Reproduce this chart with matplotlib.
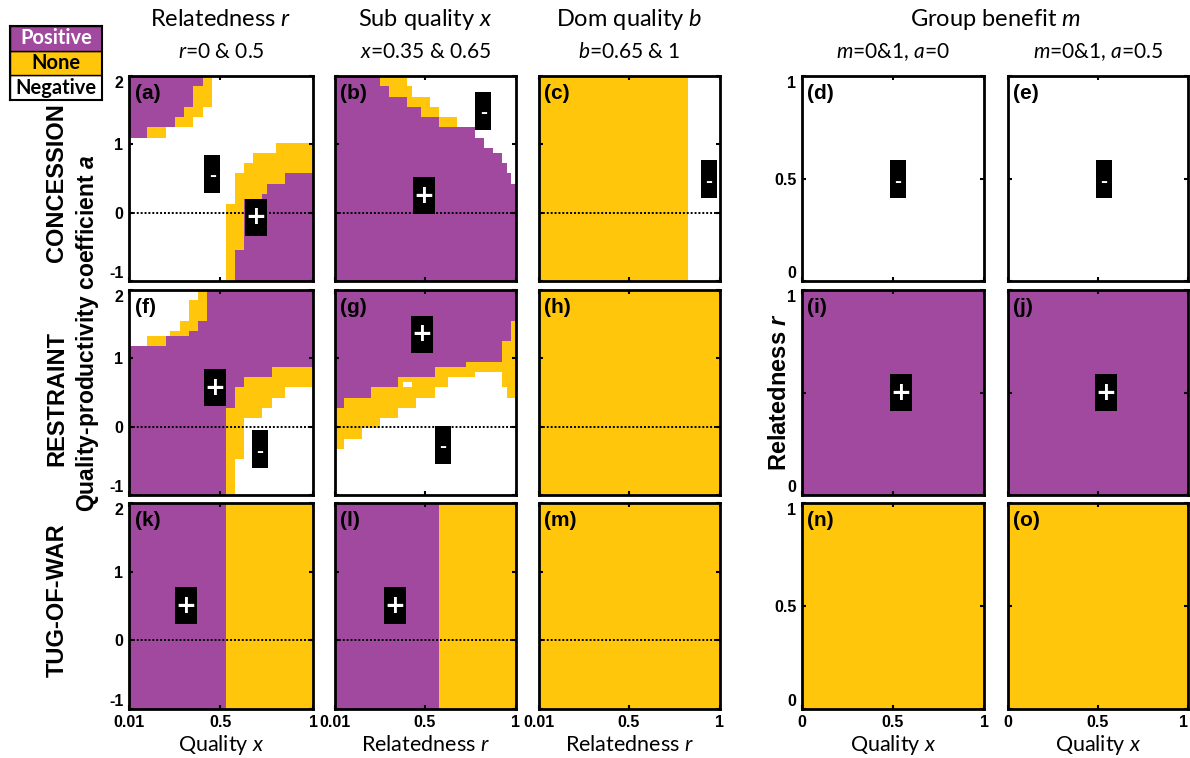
import numpy as np
import matplotlib
matplotlib.use("Agg")
import matplotlib.pyplot as plt
from matplotlib.colors import ListedColormap
from matplotlib.patches import Rectangle

plt.rcParams["mathtext.fontset"] = "custom"
plt.rcParams["mathtext.rm"] = "Lato"
plt.rcParams["mathtext.it"] = "Lato:italic"
plt.rcParams["mathtext.bfit"] = "Liberation Sans:bold:italic"
plt.rcParams["axes.unicode_minus"] = False

PURPLE = "#a1499f"
YELLOW = "#ffc60b"
CODE = {"N": 0, "Y": 1, "P": 2}          # Negative, None, Positive
CMAP = ListedColormap(["white", YELLOW, PURPLE])

# ---- outcome maps: run-length rows (top -> bottom) or columns (left -> right) ----
PANEL_A = [(2, "16P 2Y 22N"), (4, "14P 4Y 22N"), (2, "12P 4Y 24N"), (2, "10P 4Y 26N"),
           (2, "4P 4Y 32N"), (1, "40N"), (2, "32N 8Y"), (2, "27N 13Y"), (2, "25N 15Y"),
           (2, "23N 11Y 6P"), (2, "23N 7Y 10P"), (1, "23N 6Y 11P"), (1, "23N 2Y 15P"),
           (9, "21N 4Y 15P"), (6, "21N 2Y 17P")]
PANEL_B = [(2, "10P 6Y 24N"), (2, "12P 5Y 23N"), (2, "16P 5Y 19N"), (2, "19P 4Y 17N"),
           (2, "23P 4Y 13N"), (2, "31P 9N"), (2, "33P 7N"), (1, "35P 5N"), (2, "37P 3N"),
           (2, "38P 2N"), (2, "39P 1N"), (19, "40P")]
PANEL_C = [(1, "33Y 7N")]
PANEL_F = [(2, "15N 2Y 23P"), (4, "13N 4Y 23P"), (2, "11N 4Y 25P"), (1, "9N 4Y 27P"),
           (2, "4N 4Y 32P"), (4, "40P"), (2, "31P 9Y"), (2, "25P 15Y"), (2, "23P 11Y 6N"),
           (2, "23P 8Y 9N"), (2, "21P 8Y 11N"), (8, "21P 4Y 15N"), (7, "21P 2Y 17N")]
PANEL_G = [(2, "23P 8Y 9N"), (4, "21P 8Y 11N"), (2, "21P 6Y 13N"), (2, "19P 8Y 13N"),
           (4, "19P 6Y 15N"), (1, "17P 6Y 17N"), (2, "17P 1Y 1N 4Y 17N"), (1, "17P 6Y 17N"),
           (4, "17P 4Y 19N"), (3, "15P 4Y 21N"), (4, "15P 2Y 23N"), (2, "14P 3Y 23N"),
           (6, "14P 2Y 24N"), (1, "10P 9Y 21N"), (1, "10P 11Y 19N"), (1, "6P 15Y 19N")]
PANEL_H = [(1, "40Y")]
PANEL_K = [(1, "21P 19Y")]
PANEL_L = [(1, "23P 17Y")]
PANEL_M = [(1, "40Y")]
PANEL_D = [(1, "40N")]
PANEL_E = [(1, "40N")]
PANEL_I = [(1, "40P")]
PANEL_J = [(1, "40P")]
PANEL_N = [(1, "40Y")]
PANEL_O = [(1, "40Y")]

PANELS = {
    "a": (PANEL_A, "rows"), "b": (PANEL_B, "rows"), "c": (PANEL_C, "rows"),
    "d": (PANEL_D, "rows"), "e": (PANEL_E, "rows"),
    "f": (PANEL_F, "rows"), "g": (PANEL_G, "cols"), "h": (PANEL_H, "rows"),
    "i": (PANEL_I, "rows"), "j": (PANEL_J, "rows"),
    "k": (PANEL_K, "rows"), "l": (PANEL_L, "rows"), "m": (PANEL_M, "rows"),
    "n": (PANEL_N, "rows"), "o": (PANEL_O, "rows"),
}
LAYOUT = [["a", "b", "c", "d", "e"],
          ["f", "g", "h", "i", "j"],
          ["k", "l", "m", "n", "o"]]

COL_TITLES = ["Relatedness $r$", "Sub quality $x$", "Dom quality $b$"]
COL_SUBTITLES = ["$r$=0 & 0.5", "$x$=0.35 & 0.65", "$b$=0.65 & 1",
                 "$m$=0&1, $a$=0", "$m$=0&1, $a$=0.5"]
GROUP_TITLE = "Group benefit $m$"
X_LABELS = ["Quality $x$", "Relatedness $r$", "Relatedness $r$", "Quality $x$", "Quality $x$"]
ROW_NAMES = ["CONCESSION", "RESTRAINT", "TUG-OF-WAR"]

A_TICKS = [-1, 0, 1, 2]
A_TICKLABELS = ["-1", "0", "1", "2"]
Q_TICKS = [0.01, 0.5, 1]
Q_TICKLABELS = ["0.01", "0.5", "1"]
M_TICKS = [0, 0.5, 1]
M_TICKLABELS = ["0", "0.5", "1"]

# sign markers: (sign, x, y) in axes fractions
SIGNS = {
    "a": [("-", 0.452, 0.524), ("+", 0.690, 0.312)],
    "b": [("-", 0.819, 0.830), ("+", 0.493, 0.417)],
    "c": [("-", 0.938, 0.497)],
    "d": [("-", 0.526, 0.497)],
    "e": [("-", 0.533, 0.497)],
    "f": [("+", 0.465, 0.524), ("-", 0.712, 0.223)],
    "g": [("+", 0.479, 0.784), ("-", 0.596, 0.246)],
    "i": [("+", 0.544, 0.500)],
    "j": [("+", 0.544, 0.500)],
    "k": [("+", 0.309, 0.501)],
    "l": [("+", 0.330, 0.501)],
}


def decode(spec, orient):
    lines = []
    for count, rle in spec:
        cells = []
        for tok in rle.split():
            cells += [CODE[tok[-1]]] * int(tok[:-1])
        lines += [cells] * count
    grid = np.array(lines)
    return grid.T if orient == "cols" else grid


W, H = 1190, 758
fig = plt.figure(figsize=(W / 100, H / 100), dpi=100)
fig.patch.set_facecolor("white")

COL_LEFT = [129, 335, 539, 802, 1008]
COL_W = [184, 181, 181, 182, 180]
ROW_TOP = [76, 290, 503]
ROW_H = [205, 205, 206]

TICK_FONT = dict(family="Liberation Sans", weight="bold", size=11.5)
BOLD = dict(family="Liberation Sans", weight="bold")

for i, row in enumerate(LAYOUT):
    for j, key in enumerate(row):
        ax = fig.add_axes([COL_LEFT[j] / W, 1 - (ROW_TOP[i] + ROW_H[i]) / H,
                           COL_W[j] / W, ROW_H[i] / H])
        spec, orient = PANELS[key]
        grid = decode(spec, orient)
        if j < 3:
            xr, yr = (0.01, 1.0), (-1.0, 2.0)
            xt, xtl, yt, ytl = Q_TICKS, Q_TICKLABELS, A_TICKS, list(A_TICKLABELS)
        else:
            xr, yr = (0.0, 1.0), (0.0, 1.0)
            xt, xtl, yt, ytl = M_TICKS, M_TICKLABELS, M_TICKS, list(M_TICKLABELS)
            if i == 1:
                ytl[1] = ""   # the shared "Relatedness r" label sits here
        nr, nc = grid.shape
        xe = np.linspace(xr[0], xr[1], nc + 1)
        ye = np.linspace(yr[1], yr[0], nr + 1)
        ax.pcolormesh(xe, ye, grid, cmap=CMAP, vmin=-0.5, vmax=2.5,
                      shading="flat", antialiased=False, linewidth=0)
        ax.set_xlim(xr)
        ax.set_ylim(yr)
        if j < 3:
            ax.axhline(0, color="black", lw=1.4, ls=(0, (1, 1.0)), zorder=3)

        ax.set_xticks(xt)
        ax.set_yticks(yt)
        ax.tick_params(direction="in", length=3, width=1.5, top=True, right=True,
                       pad=4)
        if i == 2:
            labs = ax.set_xticklabels(xtl, fontdict=TICK_FONT)
            if j == 4:
                labs[-1].set_horizontalalignment("right")
        else:
            ax.set_xticklabels([])
        if j in (0, 3):
            labs = ax.set_yticklabels(ytl, fontdict=TICK_FONT)
            labs[0].set_verticalalignment("bottom")
            labs[-1].set_verticalalignment("top")
            ax.tick_params(axis="y", pad=4)
        else:
            ax.set_yticklabels([])
        for sp in ax.spines.values():
            sp.set_linewidth(2)
            sp.set_color("black")
            sp.set_zorder(5)

        ax.text(0.03, 0.915, f"({key})", transform=ax.transAxes, ha="left",
                va="center", fontsize=15, zorder=6, **BOLD)

        for sign, fx, fy in SIGNS.get(key, []):
            bw = (22 if sign == "+" else 16) / COL_W[j]
            bh = (37 if sign == "+" else 38) / ROW_H[i]
            ax.add_patch(Rectangle((fx - bw / 2, fy - bh / 2), bw, bh,
                                   transform=ax.transAxes, facecolor="black",
                                   edgecolor="none", zorder=7))
            if sign == "+":
                ax.text(fx, fy, "+", transform=ax.transAxes, ha="center",
                        va="center", color="white", fontsize=18, zorder=8,
                        family="DejaVu Sans", weight="bold")
            else:
                ax.text(fx, fy - 0.01, "-", transform=ax.transAxes, ha="center",
                        va="center", color="white", fontsize=15, zorder=8,
                        **BOLD)

        if i == 2:
            ax.text(0.5, -0.175, X_LABELS[j], transform=ax.transAxes, ha="center",
                    va="center", fontsize=15.5, family="Lato")

# column headers
for j in range(5):
    cx = (COL_LEFT[j] + COL_W[j] / 2) / W
    if j < 3:
        fig.text(cx, 1 - 20 / H, COL_TITLES[j], ha="center", va="center",
                 fontsize=17, family="Lato")
    fig.text(cx, 1 - 52 / H, COL_SUBTITLES[j], ha="center", va="center",
             fontsize=15, family="Lato")
fig.text((COL_LEFT[3] + COL_LEFT[4] + COL_W[4]) / 2 / W, 1 - 20 / H, GROUP_TITLE,
         ha="center", va="center", fontsize=17, family="Lato")

# row names and shared axis labels
ROW_CY = [183, 398, 600]
for name, cy in zip(ROW_NAMES, ROW_CY):
    fig.text(57 / W, 1 - cy / H, name, rotation=90, ha="center", va="center",
             fontsize=17, **BOLD)
fig.text(88 / W, 1 - 333 / H, r"Quality-productivity coefficient $\mathbfit{a}$",
         rotation=90, ha="center", va="center", fontsize=16.5, **BOLD)
fig.text(779 / W, 1 - 392 / H, r"Relatedness $\mathbfit{r}$", rotation=90,
         ha="center", va="center", fontsize=17, **BOLD)

# outcome key
leg = fig.add_axes([10 / W, 1 - 100 / H, 92 / W, 74 / H])
leg.set_xlim(0, 1)
leg.set_ylim(0, 3)
for k, (label, face, tc) in enumerate([("Negative", "white", "black"),
                                       ("None", YELLOW, "black"),
                                       ("Positive", PURPLE, "white")]):
    leg.add_patch(Rectangle((0, k), 1, 1, facecolor=face, edgecolor="black", lw=1))
    leg.text(0.5, k + 0.5, label, ha="center", va="center", color=tc,
             fontsize=14.5, family="Lato", weight="bold")
leg.set_xticks([])
leg.set_yticks([])
for sp in leg.spines.values():
    sp.set_linewidth(1.5)

fig.savefig("out.png", dpi=100, facecolor="white")
